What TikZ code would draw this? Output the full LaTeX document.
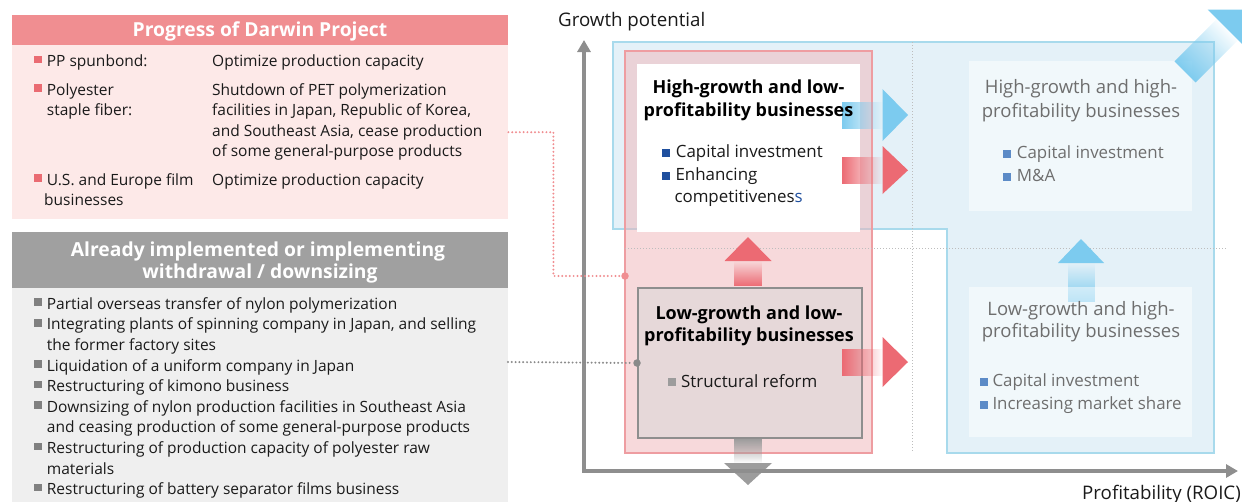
\documentclass[tikz,border=0pt]{standalone}
\usepackage{fontspec}
\setmainfont{Open Sans}
\usetikzlibrary{fadings,arrows.meta}
\definecolor{pinkhead}{HTML}{F08E91}
\definecolor{pinkbody}{HTML}{FDE9E8}
\definecolor{grayhead}{HTML}{A0A0A0}
\definecolor{graybody}{HTML}{EFEFEF}
\definecolor{pinkbul}{HTML}{EA6B72}
\definecolor{graybul}{HTML}{808080}
\definecolor{txt}{HTML}{1A1A1A}
\definecolor{bluefill}{HTML}{E4F1F8}
\definecolor{blueline}{HTML}{A8DAEC}
\definecolor{pinkreg}{HTML}{F0B4B8}
\definecolor{pinkline}{HTML}{EE9DA1}
\definecolor{lowbox}{HTML}{E6D8D9}
\definecolor{boxline}{HTML}{8E8E8E}
\definecolor{axisc}{HTML}{8E8E8E}
\definecolor{arrblue}{HTML}{7CCBEF}
\definecolor{arrred}{HTML}{EC6A73}
\definecolor{arrgray}{HTML}{9C9C9C}
\definecolor{darkblue}{HTML}{1F4F9E}
\definecolor{midblue}{HTML}{5C8BC7}
\definecolor{softtxt}{HTML}{6E6E6E}
\definecolor{dotgray}{HTML}{BDBDBD}
\definecolor{linkgray}{HTML}{8A8A8A}
\newcommand{\bsq}[5]{\fill[#1] (#2,#3-#4) rectangle ++(#5,-#5);}
\tikzset{
  lt/.style={inner sep=0, anchor=base west, text=txt, font=\fontsize{15.5}{18}\selectfont},
  ct/.style={inner sep=0, anchor=base west, text=txt, font=\fontsize{16.9}{19}\selectfont},
  ctsoft/.style={ct, text=softtxt},
  ttl/.style={inner sep=0, anchor=base, text=black, font=\fontsize{18}{20}\selectfont\bfseries},
  ttlsoft/.style={inner sep=0, anchor=base, text=softtxt, font=\fontsize{18.5}{20}\selectfont},
  hdrt/.style={inner sep=0, anchor=base, text=white, font=\fontsize{19.3}{22}\selectfont\bfseries},
  axlab/.style={inner sep=0, anchor=base west, text=txt, font=\fontsize{18.7}{20}\selectfont},
  panel/.style={inner sep=0, anchor=north west, minimum width=496},
  pinkdots/.style={draw=pinkhead, line width=2.2pt, line cap=round, dash pattern=on 0pt off 3.8pt},
  graydots/.style={draw=linkgray, line width=2.2pt, line cap=round, dash pattern=on 0pt off 3.8pt},
  gridline/.style={draw=dotgray, line width=1pt, dash pattern=on 1pt off 2pt},
  axisline/.style={draw=axisc, line width=4pt, {Triangle[width=13pt,length=12pt]}-{Triangle[width=13pt,length=12pt]}},
  quad/.style={inner sep=0, anchor=north west},
  linkdot/.style={circle, inner sep=0, minimum size=7.5pt}
}
\begin{document}
\begin{tikzpicture}[x=1pt,y=-1pt]
\useasboundingbox (0,0) rectangle (1242,501);
% ---------- left panels ----------
\node[panel, fill=pinkhead, minimum height=30] (darhead) at (12,15) {};
\node[panel, fill=pinkbody, minimum height=174] (darbody) at (12,45) {};
\node[panel, fill=grayhead, minimum height=56] (wdhead) at (12,232) {};
\node[panel, fill=graybody, minimum height=215] (wdbody) at (12,288) {};
\node[hdrt] (t1) at (260,36.5) {Progress of Darwin Project};
\node[hdrt] (t2) at (258,256.7) {Already implemented or implementing};
\node[hdrt] (t3) at (260,278.3) {withdrawal / downsizing};
% Darwin items
\bsq{pinkbul}{34.3}{66.7}{3.4}{7.5}
\node[lt] (d1) at (46.7,66.7) {PP spunbond:};
\node[lt] (d1r) at (212,66.7) {Optimize production capacity};
\bsq{pinkbul}{34.3}{95}{3.4}{7.5}
\node[lt] (d2) at (46.7,95) {Polyester};
\node[lt] (d2b) at (46.7,115.5) {staple fiber:};
\node[lt] (d2r1) at (212,95) {Shutdown of PET polymerization};
\node[lt] (d2r2) at (212,115.5) {facilities in Japan, Republic of Korea,};
\node[lt] (d2r3) at (212,136) {and Southeast Asia, cease production};
\node[lt] (d2r4) at (212,156.5) {of some general-purpose products};
\bsq{pinkbul}{34.3}{185}{3.4}{7.5}
\node[lt] (d3) at (46.7,185) {U.S. and Europe film};
\node[lt] (d3b) at (44,205.5) {businesses};
\node[lt] (d3r) at (212,185) {Optimize production capacity};
% withdrawal items
\foreach \k/\t/\b in {0/Partial overseas transfer of nylon polymerization/1,
  1/{Integrating plants of spinning company in Japan, and selling}/1,
  2/the former factory sites/0,
  3/Liquidation of a uniform company in Japan/1,
  4/Restructuring of kimono business/1,
  5/Downsizing of nylon production facilities in Southeast Asia/1,
  6/and ceasing production of some general-purpose products/0,
  7/Restructuring of production capacity of polyester raw/1,
  8/materials/0,
  9/Restructuring of battery separator films business/1}{
  \pgfmathsetmacro{\yb}{309.3+20.6*\k}
  \ifnum\b=1 \bsq{graybul}{34.3}{\yb}{3.4}{7.5}\fi
  \node[lt] (w\k) at (46.7,\yb) {\t};
}
% ---------- chart regions ----------
\fill[bluefill] (613,42) -- (1214,42) -- (1214,453) -- (947,453) -- (947,229) -- (613,229) -- cycle;
\draw[blueline, line width=1.2pt] (613,42) -- (1214,42) -- (1214,453) -- (947,453) -- (947,229) -- (613,229) -- cycle;
\fill[pinkreg, fill opacity=0.5] (625,51) rectangle (872,453);
\draw[pinkline, line width=1.2pt] (625,51) rectangle (872,453);
\draw[gridline] (912,42) -- (912,451);
\draw[gridline] (625,248) -- (1226,248);
% blue up arrow (right column)
\fill[arrblue, path fading=north] (1067.5,262.6) rectangle (1094.5,302);
\fill[arrblue] (1058,263) -- (1081,239) -- (1104,263) -- cycle;
% right boxes
\node[quad, fill=white, fill opacity=0.5, minimum width=223, minimum height=150] (hh) at (969,61) {};
\node[quad, fill=white, fill opacity=0.5, minimum width=223, minimum height=150] (lh) at (969,287) {};
% left quadrant boxes
\node[quad, fill=white, minimum width=223, minimum height=168] (hl) at (637,64) {};
\node[quad, fill=lowbox, draw=boxline, line width=2pt, minimum width=224, minimum height=150] (ll) at (637,287) {};
% block arrows
\fill[arrblue, path fading=east] (842,101.5) rectangle (883,128.5);
\fill[arrblue] (882.5,89) -- (908,115) -- (882.5,141) -- cycle;
\fill[arrred, path fading=east] (842,157) rectangle (883,183.5);
\fill[arrred] (882.5,146) -- (908,170.3) -- (882.5,194) -- cycle;
\fill[arrred, path fading=east] (842,348.5) rectangle (883,376);
\fill[arrred] (882.5,337) -- (908,362) -- (882.5,387) -- cycle;
\fill[arrred, path fading=north] (734,260.6) rectangle (762,286);
\fill[arrred] (724.5,261) -- (748,237) -- (771.5,261) -- cycle;
\fill[arrgray, path fading=south] (734,438.5) rectangle (762,463.4);
\fill[arrgray] (724,463) -- (748,485) -- (772,463) -- cycle;
% diagonal arrow top right
\fill[arrblue, path fading=east, fading angle=45] (1174.5,61.3) -- (1195.7,82.5) -- (1238.4,39.8) -- (1217.2,18.6) -- cycle;
\fill[arrblue] (1207.7,9.7) -- (1247.3,9.7) -- (1247.3,49.3) -- cycle;
% axes
\coordinate (ytop) at (584,40);
\coordinate (origin) at (584,471);
\coordinate (xend) at (1238,471);
\draw[axisline] (ytop) -- (origin) -- (xend);
\node[axlab] (ylab) at (558,26.7) {Growth potential};
\node[axlab] (xlab) at (1082,499) {Profitability (ROIC)};
% connectors
\node[linkdot, fill=pinkhead] (pdot) at (625,276) {};
\node[linkdot, fill=linkgray] (gdot) at (ll.west) {};
\coordinate (gstart) at (508,362);
\draw[pinkdots] (darbody.east) -- ++(45,0) |- (pdot);
\draw[graydots] (gstart) -- (gdot);
% quadrant texts
\node[ttl] (hlt1) at (748.5,93.3) {High-growth and low-};
\node[ttl] (hlt2) at (748.5,116.7) {profitability businesses};
\bsq{darkblue}{662.3}{157.7}{0.5}{8}
\node[ct] (hli1) at (675.7,157.7) {Capital investment};
\bsq{darkblue}{662.3}{180.5}{0.5}{8}
\node[ct] (hli2) at (675.3,180.5) {Enhancing};
\node[ct] (hli3) at (674.3,202.3) {competitivenes\textcolor{darkblue}{s}};
\node[ttlsoft] (hht1) at (1081,93.3) {High-growth and high-};
\node[ttlsoft] (hht2) at (1081,117.3) {profitability businesses};
\bsq{midblue}{1003.3}{158.3}{0.5}{8}
\node[ctsoft] (hhi1) at (1016.7,158.3) {Capital investment};
\bsq{midblue}{1003.3}{181}{0.5}{8}
\node[ctsoft] (hhi2) at (1016.7,181) {M\&A};
\node[ttl] (llt1) at (749,319.3) {Low-growth and low-};
\node[ttl] (llt2) at (749,341.7) {profitability businesses};
\bsq{arrgray}{667.7}{387.7}{1.5}{8}
\node[ct] (lli1) at (681,387.7) {Structural reform};
\node[ttlsoft] (lht1) at (1081,315) {Low-growth and high-};
\node[ttlsoft] (lht2) at (1081,337.7) {profitability businesses};
\bsq{midblue}{980}{386}{0.5}{8}
\node[ctsoft] (lhi1) at (992.3,386) {Capital investment};
\bsq{midblue}{980}{409}{0.5}{8}
\node[ctsoft] (lhi2) at (992.3,409) {Increasing market share};
\end{tikzpicture}
\end{document}
